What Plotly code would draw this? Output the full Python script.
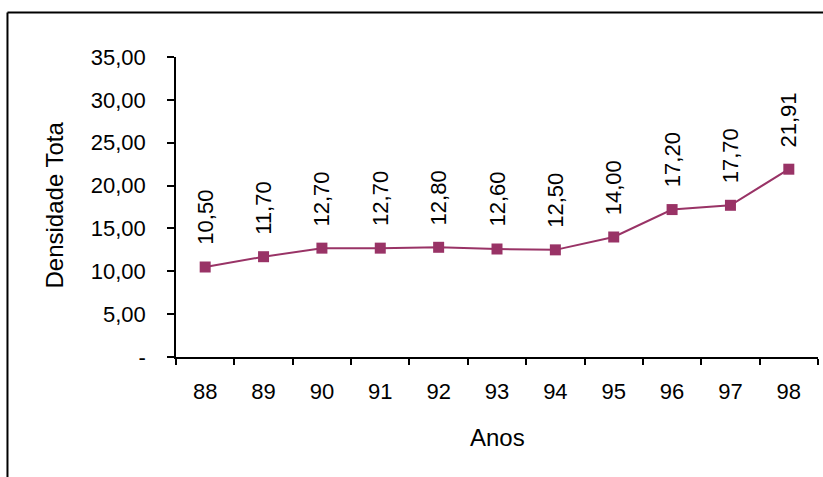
import plotly.graph_objects as go

# Densidade total por ano
anos = ["88", "89", "90", "91", "92", "93", "94", "95", "96", "97", "98"]
densidade = [10.50, 11.70, 12.70, 12.70, 12.80, 12.60, 12.50, 14.00, 17.20, 17.70, 21.91]

y_ticks = [0, 5, 10, 15, 20, 25, 30, 35]
y_ticktext = ["-", "5,00", "10,00", "15,00", "20,00", "25,00", "30,00", "35,00"]

COR = "#993366"
FONTE = "Liberation Sans, Arial, sans-serif"
TAM = 22
TAM_TITULO = 24


def fmt(v):
    return f"{v:.2f}".replace(".", ",")


fig = go.Figure()
fig.add_trace(go.Scatter(
    x=anos, y=densidade, mode="lines+markers",
    line=dict(color=COR, width=2),
    marker=dict(symbol="square", size=11, color=COR),
    hoverinfo="skip", showlegend=False,
))

# rótulos de dados verticais acima de cada ponto (posição pelo índice da categoria)
annotations = []
for i, v in enumerate(densidade):
    annotations.append(dict(
        x=i, y=v, xref="x", yref="y", text=fmt(v), textangle=-90,
        showarrow=False, xanchor="center", yanchor="bottom", yshift=20,
        font=dict(family=FONTE, size=TAM, color="black"),
    ))

annotations.append(dict(
    x=0.5, y=-0.268, xref="paper", yref="paper", text="Anos",
    showarrow=False, xanchor="center", yanchor="middle",
    font=dict(family=FONTE, size=TAM_TITULO, color="black"),
))
annotations.append(dict(
    x=-0.19, y=0.505, xref="paper", yref="paper", text="Densidade Tota",
    textangle=-90, showarrow=False, xanchor="center", yanchor="middle",
    font=dict(family=FONTE, size=TAM_TITULO, color="black"),
))

fig.update_layout(
    width=823, height=477,
    margin=dict(l=176, r=5, t=57, b=120),
    paper_bgcolor="white", plot_bgcolor="white",
    font=dict(family=FONTE, size=TAM, color="black"),
    annotations=annotations,
    shapes=[
        # moldura do gráfico
        dict(type="line", xref="paper", yref="paper",
             x0=-0.2625, y0=-0.45, x1=-0.2625, y1=1.148,
             line=dict(color="black", width=2)),
        dict(type="line", xref="paper", yref="paper",
             x0=-0.2625, y0=1.148, x1=1.05, y1=1.148,
             line=dict(color="black", width=2)),
    ],
)

fig.update_xaxes(
    type="category", categoryorder="array", categoryarray=anos,
    range=[-0.5, len(anos) - 0.5], tickson="boundaries", tickangle=0,
    showline=True, linecolor="black", linewidth=1.5,
    ticks="outside", ticklen=6, tickwidth=1.5, tickcolor="black",
    showgrid=False, zeroline=False, ticklabelstandoff=14,
)
fig.update_yaxes(
    range=[0, 35], tickvals=y_ticks, ticktext=y_ticktext,
    showline=True, linecolor="black", linewidth=1.5,
    ticks="outside", ticklen=7, tickwidth=1.5, tickcolor="black",
    showgrid=False, zeroline=False, ticklabelstandoff=17,
)

fig.write_html("out.html")
